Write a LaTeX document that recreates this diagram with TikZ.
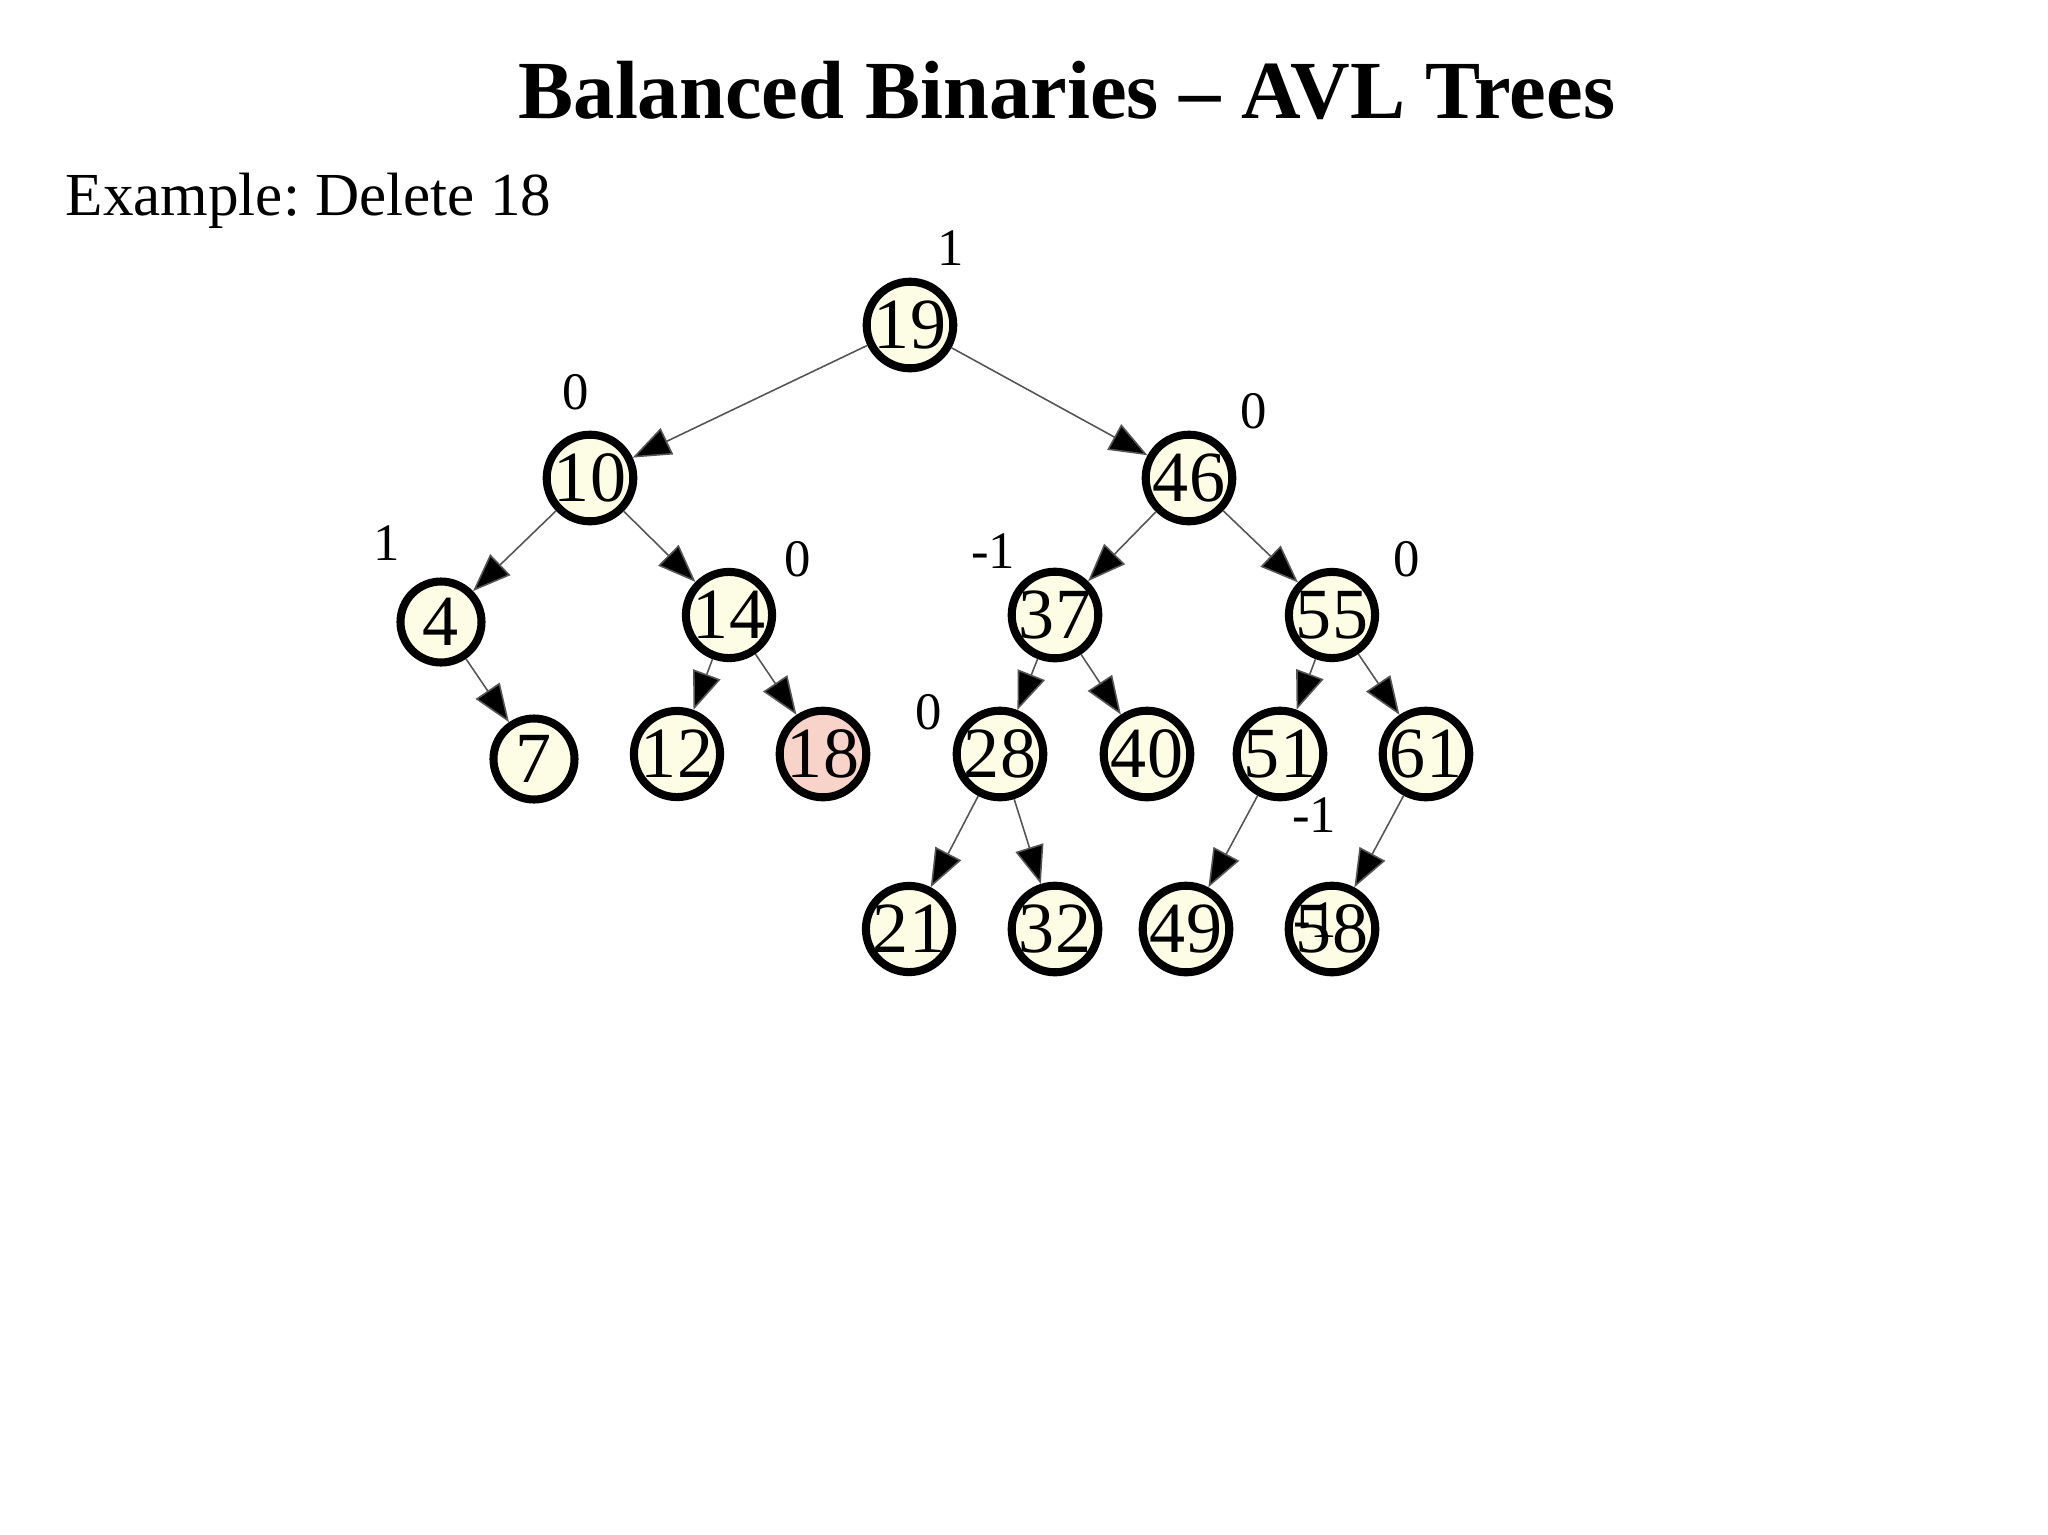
\documentclass[tikz,border=0pt]{standalone}
\usepackage{fontspec}
\setmainfont{Liberation Serif}
\usetikzlibrary{arrows.meta}
\definecolor{nodefill}{HTML}{FDFDE6}
\definecolor{delfill}{HTML}{F8D3C9}
\definecolor{edgecol}{HTML}{555555}
\tikzset{
  avl/.style={circle, draw=black, line width=2.3pt, fill=nodefill, minimum size=0.81cm, inner sep=0pt, font=\fontsize{20.5}{20.5}\selectfont},
  deleted/.style={avl, fill=delfill},
  edge/.style={draw=edgecol, line width=0.45pt, -{Triangle[length=0.38cm,width=0.29cm,fill=black]}},
  bal/.style={font=\fontsize{15}{15}\selectfont, inner sep=0pt},
}
\begin{document}
\frenchspacing
\begin{tikzpicture}
\useasboundingbox (0,0) rectangle (20.48,-15.35);
\node[font=\bfseries\fontsize{23.5}{23.5}\selectfont, anchor=base] (title) at (10.67,-1.18) {Balanced Binaries -- AVL Trees};
\node[font=\fontsize{17.4}{17.4}\selectfont, anchor=base west, inner sep=0pt] (ex) at (0.65,-2.15) {Example: Delete 18};

\node[avl] (n19) at (9.10,-3.25) {19};
\node[avl] (n10) at (5.90,-4.78) {10};
\node[avl] (n46) at (11.89,-4.78) {46};
\node[avl] (n4) at (4.41,-6.22) {4};
\node[avl] (n14) at (7.29,-6.15) {14};
\node[avl] (n37) at (10.55,-6.15) {37};
\node[avl] (n55) at (13.32,-6.15) {55};
\node[avl] (n7) at (5.34,-7.59) {7};
\node[avl] (n12) at (6.77,-7.54) {12};
\node[deleted] (n18) at (8.23,-7.54) {18};
\node[avl] (n28) at (10.00,-7.54) {28};
\node[avl] (n40) at (11.47,-7.54) {40};
\node[avl] (n51) at (12.80,-7.54) {51};
\node[avl] (n61) at (14.26,-7.54) {61};
\node[avl] (n21) at (9.09,-9.29) {21};
\node[avl] (n32) at (10.55,-9.29) {32};
\node[avl] (n49) at (11.86,-9.29) {49};
\node[avl] (n58) at (13.32,-9.29) {58};

\draw[edge] (n19) -- (n10);
\draw[edge] (n19) -- (n46);
\draw[edge] (n10) -- (n4);
\draw[edge] (n10) -- (n14);
\draw[edge] (n4) -- (n7);
\draw[edge] (n14) -- (n12);
\draw[edge] (n14) -- (n18);
\draw[edge] (n46) -- (n37);
\draw[edge] (n46) -- (n55);
\draw[edge] (n37) -- (n28);
\draw[edge] (n37) -- (n40);
\draw[edge] (n55) -- (n51);
\draw[edge] (n55) -- (n61);
\draw[edge] (n28) -- (n21);
\draw[edge] (n28) -- (n32);
\draw[edge] (n51) -- (n49);
\draw[edge] (n61) -- (n58);

\node[bal] (b19) at (9.51,-2.48) {1};
\node[bal] (b10) at (5.76,-3.92) {0};
\node[bal] (b46) at (12.54,-4.11) {0};
\node[bal] (b4) at (3.87,-5.43) {1};
\node[bal] (b14) at (7.98,-5.59) {0};
\node[bal] (b37) at (9.93,-5.51) {-1};
\node[bal] (b55) at (14.07,-5.59) {0};
\node[bal] (b28) at (9.29,-7.12) {0};
\node[bal] (b51) at (13.14,-8.15) {-1};
\node[bal] (b58) at (13.15,-9.20) {-1};
\end{tikzpicture}
\end{document}
